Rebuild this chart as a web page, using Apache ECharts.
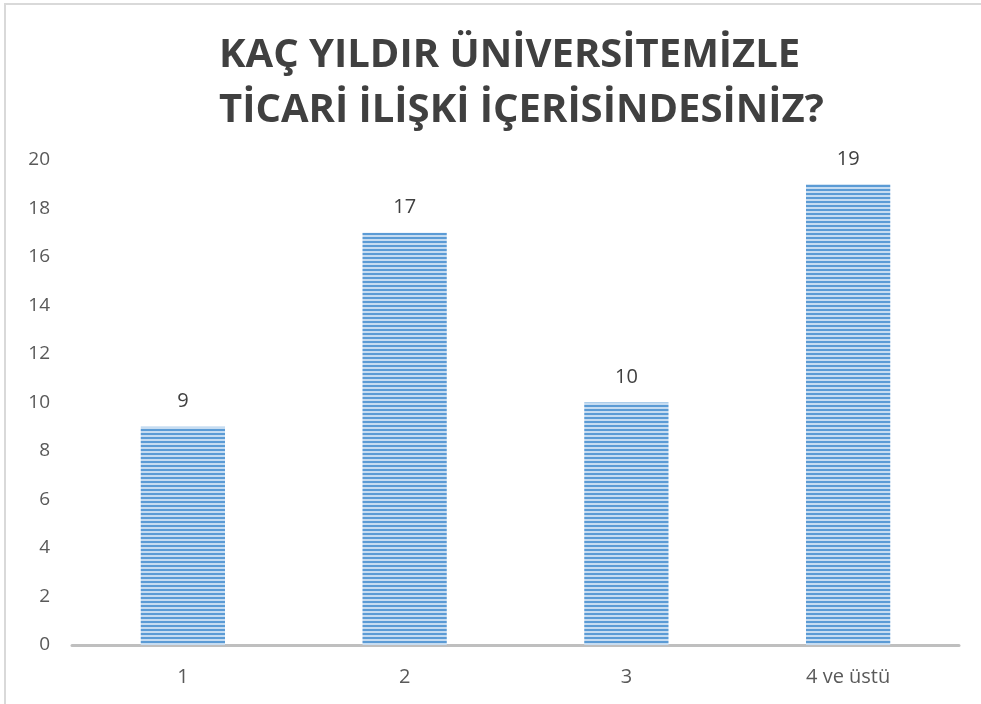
<!DOCTYPE html>
<html>
<head>
<meta charset="utf-8">
<script src="https://cdn.jsdelivr.net/npm/echarts@6/dist/echarts.min.js"></script>
<style>
  html, body { margin: 0; padding: 0; background: #fff; }
  #chart { position: absolute; left: 4px; top: 3px; width: 977px; height: 701px;
    border-left: 2px solid #d9d9d9; border-top: 2px solid #d9d9d9; box-sizing: border-box; }
</style>
</head>
<body>
<div id="chart"></div>
<script>
var categories = ['1', '2', '3', '4 ve üstü']
var values = [9, 17, 10, 19]
var titleText = 'KAÇ YILDIR ÜNİVERSİTEMİZLE\nTİCARİ İLİŞKİ İÇERİSİNDESİNİZ?'

// yatay çizgili dolgu deseni
function stripePattern() {
  var c = document.createElement('canvas')
  c.width = 4
  c.height = 4
  var ctx = c.getContext('2d')
  ctx.fillStyle = '#c6dcf1'
  ctx.fillRect(0, 0, 4, 4)
  ctx.fillStyle = '#5b9bd5'
  ctx.fillRect(0, 0, 4, 2)
  return c
}

var chart = echarts.init(document.getElementById('chart'))
var option = {
  animation: false,
  title: {
    text: titleText,
    left: 208,
    top: 20,
    padding: [3, 5, 5, 5],
    textStyle: {
      fontFamily: 'Open Sans',
      fontWeight: 'bold',
      fontSize: 40,
      lineHeight: 55,
      color: '#404040'
    }
  },
  grid: {
    left: 66,
    right: 22,
    top: 155,
    bottom: 59
  },
  xAxis: {
    type: 'category',
    data: categories,
    axisLine: { lineStyle: { color: '#bfbfbf', width: 3 } },
    axisTick: { show: false },
    axisLabel: { color: '#595959', fontSize: 20, margin: 22, fontFamily: 'Open Sans' }
  },
  yAxis: {
    type: 'value',
    min: 0,
    max: 20,
    interval: 2,
    splitLine: { show: false },
    axisLine: { show: false },
    axisTick: { show: false },
    axisLabel: { color: '#595959', fontSize: 19, margin: 22, fontFamily: 'Open Sans' }
  },
  series: [{
    type: 'bar',
    data: values,
    barWidth: '38%',
    itemStyle: {
      color: { image: stripePattern(), repeat: 'repeat' }
    },
    label: {
      show: true,
      position: 'top',
      distance: 15,
      color: '#404040',
      fontSize: 20,
      fontFamily: 'Open Sans'
    }
  }]
}
chart.setOption(option)
</script>
</body>
</html>
